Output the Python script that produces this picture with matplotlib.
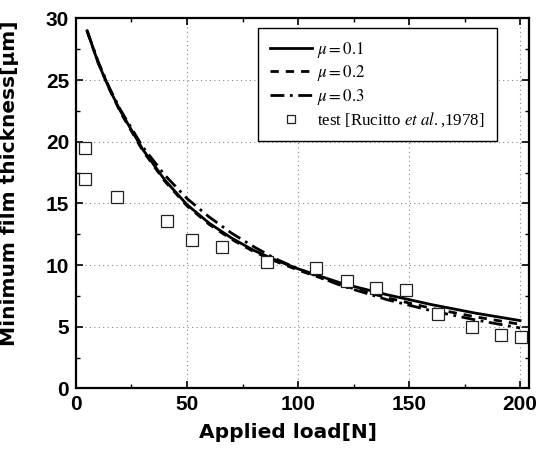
import matplotlib
matplotlib.use("Agg")
import matplotlib.pyplot as plt

# ---- data ----
load_curve = [5, 10, 15, 20, 30, 40, 50, 60, 70, 80, 90, 100, 120, 140, 160, 180, 200]
h_mu01 = [29.0, 26.4, 24.3, 22.5, 19.4, 16.9, 14.9, 13.4, 12.2, 11.2, 10.4, 9.7, 8.5, 7.6, 6.8, 6.1, 5.5]
h_mu02 = [29.0, 26.4, 24.3, 22.4, 19.3, 16.8, 14.8, 13.3, 12.1, 11.1, 10.3, 9.6, 8.35, 7.35, 6.5, 5.8, 5.2]
h_mu03 = [29.0, 26.5, 24.4, 22.6, 19.6, 17.3, 15.4, 13.9, 12.6, 11.5, 10.5, 9.7, 8.3, 7.2, 6.3, 5.55, 4.9]

test_load = [3.9, 3.9, 18.5, 41.1, 52.3, 65.8, 85.9, 108.2, 122.0, 135.1, 148.6, 163.0, 178.2, 191.4, 200.6]
test_h = [19.5, 17.0, 15.5, 13.6, 12.0, 11.5, 10.25, 9.8, 8.7, 8.15, 7.95, 6.05, 4.95, 4.3, 4.2]

x_ticks = [0, 50, 100, 150, 200]
y_ticks = [0, 5, 10, 15, 20, 25, 30]
x_label = "Applied load[N]"
y_label = "Minimum film thickness[\u03bcm]"
labels = [r"$\mu = 0.1$", r"$\mu = 0.2$", r"$\mu = 0.3$", r"test [Rucitto $\mathit{et\ al.}$,1978]"]

plt.rcParams['mathtext.fontset'] = 'stix'

fig = plt.figure(figsize=(5.37, 4.49), dpi=100)
ax = fig.add_axes([0.1415, 0.135, 0.8435, 0.8238])

ax.plot(load_curve, h_mu01, color='black', lw=2.0, ls='-', label=labels[0])
ax.plot(load_curve, h_mu02, color='black', lw=2.0, ls=(0, (3, 2.5)), label=labels[1])
ax.plot(load_curve, h_mu03, color='black', lw=2.0, ls=(0, (5, 2, 1, 2)), label=labels[2])
ax.plot(test_load, test_h, ls='none', marker='s', ms=8.5, mfc='white', mec='#222222',
        mew=0.9, label=labels[3])

ax.set_xlim(0, 204)
ax.set_ylim(0, 30)
ax.set_xticks(x_ticks)
ax.set_yticks(y_ticks)
ax.set_xticks([25, 75, 125, 175], minor=True)
ax.set_yticks([2.5, 7.5, 12.5, 17.5, 22.5, 27.5], minor=True)
ax.tick_params(which='both', direction='in', top=True, right=True)
ax.tick_params(which='major', length=5, width=1.2, pad=5)
ax.tick_params(which='minor', length=3, width=1.0)
for lab in ax.get_xticklabels() + ax.get_yticklabels():
    lab.set_fontfamily('Liberation Sans')
    lab.set_fontweight('bold')
    lab.set_fontsize(15)
for sp in ax.spines.values():
    sp.set_linewidth(1.6)
ax.grid(True, which='major', ls=(0, (1, 3)), color='#888888', lw=0.8)

ax.set_xlabel(x_label, fontfamily='DejaVu Sans', fontweight='bold', fontsize=14.5)
ax.xaxis.set_label_coords(0.468, -0.093)
ax.set_ylabel(y_label, fontfamily='DejaVu Sans', fontweight='bold', fontsize=14.5)
ax.yaxis.set_label_coords(-0.125, 0.555)

leg = ax.legend(loc='upper left', bbox_to_anchor=(0.402, 0.974), frameon=True, fancybox=False,
                edgecolor='black', framealpha=1, prop={'family': 'Liberation Serif', 'size': 12.2},
                handlelength=2.5, handletextpad=0.3, labelspacing=0.2, borderpad=0.7,
                markerscale=0.75, borderaxespad=0)
leg.get_frame().set_linewidth(1.0)

fig.savefig("out.png", dpi=100)
